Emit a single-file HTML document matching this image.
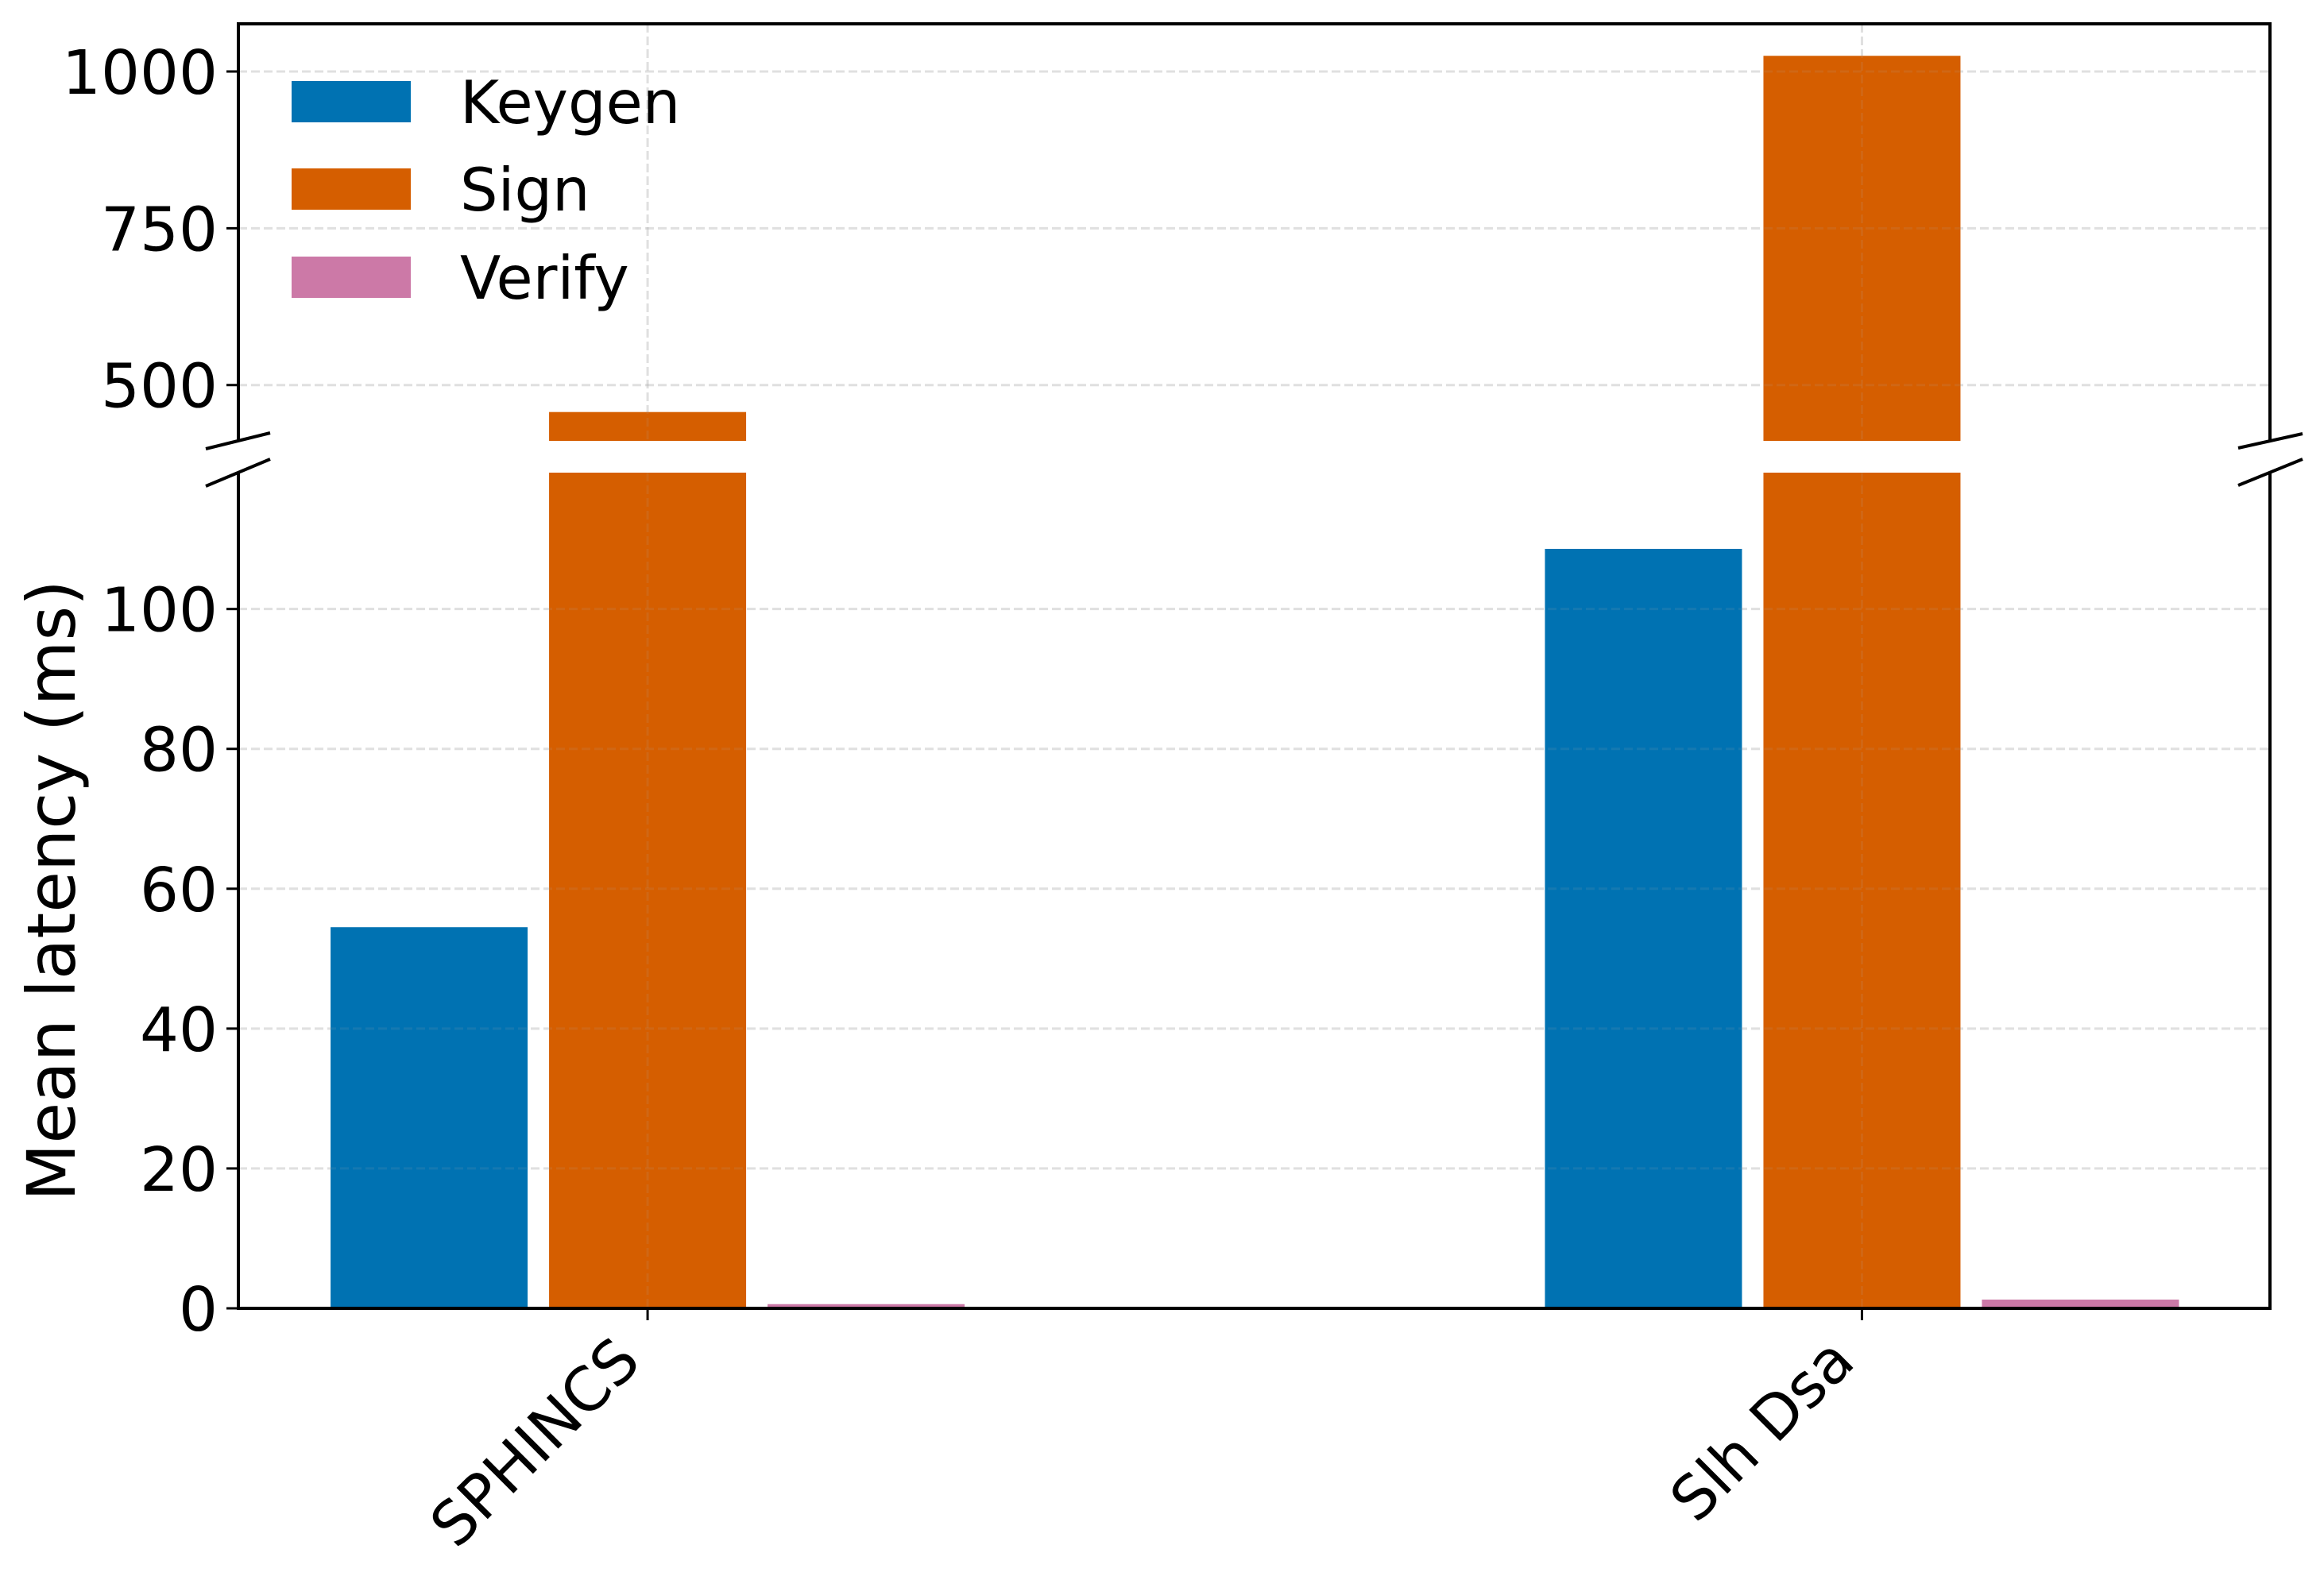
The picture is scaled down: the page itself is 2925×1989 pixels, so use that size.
<!DOCTYPE html>
<html><head><meta charset="utf-8"><style>
html,body{margin:0;padding:0;background:#fff;}
svg{display:block;font-family:"DejaVu Sans","Liberation Sans",sans-serif;}
</style></head><body>
<svg id="chart" width="2925" height="1989" viewBox="0 0 2925 1989" xmlns="http://www.w3.org/2000/svg"></svg>
<script>
const categories = ["SPHINCS", "Slh Dsa"];
const seriesNames = ["Keygen", "Sign", "Verify"];
const keygenValues = [54.5, 108.6];
const signValues = [457, 1025];
const verifyValues = [0.6, 1.25];
const topTicks = [500, 750, 1000];
const bottomTicks = [0, 20, 40, 60, 80, 100];
const colors = ["#0072B2", "#D55E00", "#CC79A7"];

const NS = "http://www.w3.org/2000/svg";
const svg = document.getElementById("chart");
function mk(tag, attrs, parent) {
  const e = document.createElementNS(NS, tag);
  for (const k in attrs) e.setAttribute(k, attrs[k]);
  (parent || svg).appendChild(e);
  return e;
}
const L = 300, R = 2857;
const topAx = {t: 30, b: 555, min: 411, max: 1076};
const botAx = {t: 595, b: 1647, min: 0, max: 119.5};
const xMin = -0.337, xMax = 1.336;
function x(v) { return L + (v - xMin) / (xMax - xMin) * (R - L); }
function yTop(v) { return topAx.b - (v - topAx.min) / (topAx.max - topAx.min) * (topAx.b - topAx.t); }
function yBot(v) { return botAx.b - (v - botAx.min) / (botAx.max - botAx.min) * (botAx.b - botAx.t); }
const unit = x(1) - x(0);
const barW = 248 / unit, offset = 275 / unit;

const defs = mk("defs", {});
const c1 = mk("clipPath", {id: "clipTop"}, defs);
mk("rect", {x: L, y: topAx.t, width: R - L, height: topAx.b - topAx.t}, c1);
const c2 = mk("clipPath", {id: "clipBot"}, defs);
mk("rect", {x: L, y: botAx.t, width: R - L, height: botAx.b - botAx.t}, c2);

const grid = mk("g", {stroke: "#b0b0b0", "stroke-opacity": "0.3", "stroke-width": "3", "stroke-dasharray": "11,5"});


topTicks.forEach(t => mk("line", {x1: L, x2: R, y1: yTop(t), y2: yTop(t)}, grid));
bottomTicks.forEach(t => mk("line", {x1: L, x2: R, y1: yBot(t), y2: yBot(t)}, grid));
categories.forEach((c, i) => {
  mk("line", {x1: x(i), x2: x(i), y1: topAx.t, y2: topAx.b}, grid);
  mk("line", {x1: x(i), x2: x(i), y1: botAx.t, y2: botAx.b}, grid);
});

const allSeries = [keygenValues, signValues, verifyValues];
const barsTop = mk("g", {"clip-path": "url(#clipTop)"});
const barsBot = mk("g", {"clip-path": "url(#clipBot)"});
allSeries.forEach((vals, s) => {
  vals.forEach((v, i) => {
    const cx = i + (s - 1) * offset;
    const x0 = x(cx - barW / 2), w = x(cx + barW / 2) - x0;
    const yb = yBot(Math.min(v, botAx.max + 5));
    const r1 = mk("rect", {x: x0, y: yb, width: w, height: botAx.b - yb, fill: colors[s]}, barsBot);
    
    
    if (v > topAx.min) {
      const yt = yTop(v);
      const r2 = mk("rect", {x: x0, y: yt, width: w, height: topAx.b + 5 - yt, fill: colors[s]}, barsTop);
      
      
    }
  });
});
const grid2 = grid.cloneNode(true);
grid2.setAttribute("stroke-opacity", "0.12");
svg.appendChild(grid2);

const sp = mk("g", {stroke: "#000", "stroke-width": "4", fill: "none"});


mk("polyline", {points: `${L},${topAx.b} ${L},${topAx.t} ${R},${topAx.t} ${R},${topAx.b}`}, sp);
mk("polyline", {points: `${L},${botAx.t} ${L},${botAx.b} ${R},${botAx.b} ${R},${botAx.t}`}, sp);
mk("line", {x1: 259, y1: 565, x2: 340, y2: 545}, sp);
mk("line", {x1: 259, y1: 612, x2: 340, y2: 578}, sp);
mk("line", {x1: 2817, y1: 564, x2: 2898, y2: 546}, sp);
mk("line", {x1: 2817, y1: 611, x2: 2898, y2: 578}, sp);

const tk = mk("g", {stroke: "#000", "stroke-width": "3"});
const tl = mk("g", {"font-size": "77", fill: "#000", "text-anchor": "end"});
topTicks.forEach(t => {
  mk("line", {x1: L - 15, x2: L, y1: yTop(t), y2: yTop(t)}, tk);
  const e = mk("text", {x: L - 26, y: yTop(t) + 28}, tl);
  e.textContent = t;
  
  
});
bottomTicks.forEach(t => {
  mk("line", {x1: L - 15, x2: L, y1: yBot(t), y2: yBot(t)}, tk);
  const e = mk("text", {x: L - 26, y: yBot(t) + 28}, tl);
  e.textContent = t;
  
  
});
categories.forEach((c, i) => {
  mk("line", {x1: x(i), x2: x(i), y1: botAx.b, y2: botAx.b + 15}, tk);
  const px = x(i) - 6, py = botAx.b + 70;
  const e = mk("text", {x: px, y: py, "font-size": "76", "text-anchor": "end", transform: `rotate(-45 ${px} ${py})`});
  e.textContent = c;
  
  
});

const yl = mk("text", {x: 0, y: 0, "font-size": "84", "text-anchor": "middle", transform: `translate(94 ${(botAx.t + botAx.b) / 2}) rotate(-90)`});
yl.textContent = "Mean latency (ms)";



const lg = mk("g", {});


const patchY = [102, 212, 323];
seriesNames.forEach((n, s) => {
  const r = mk("rect", {x: 367, y: patchY[s], width: 150, height: 52, fill: colors[s]}, lg);
  
  
  const t = mk("text", {x: 579, y: patchY[s] + 53, "font-size": "75"}, lg);
  t.textContent = n;
  
  
});
</script>
</body></html>
